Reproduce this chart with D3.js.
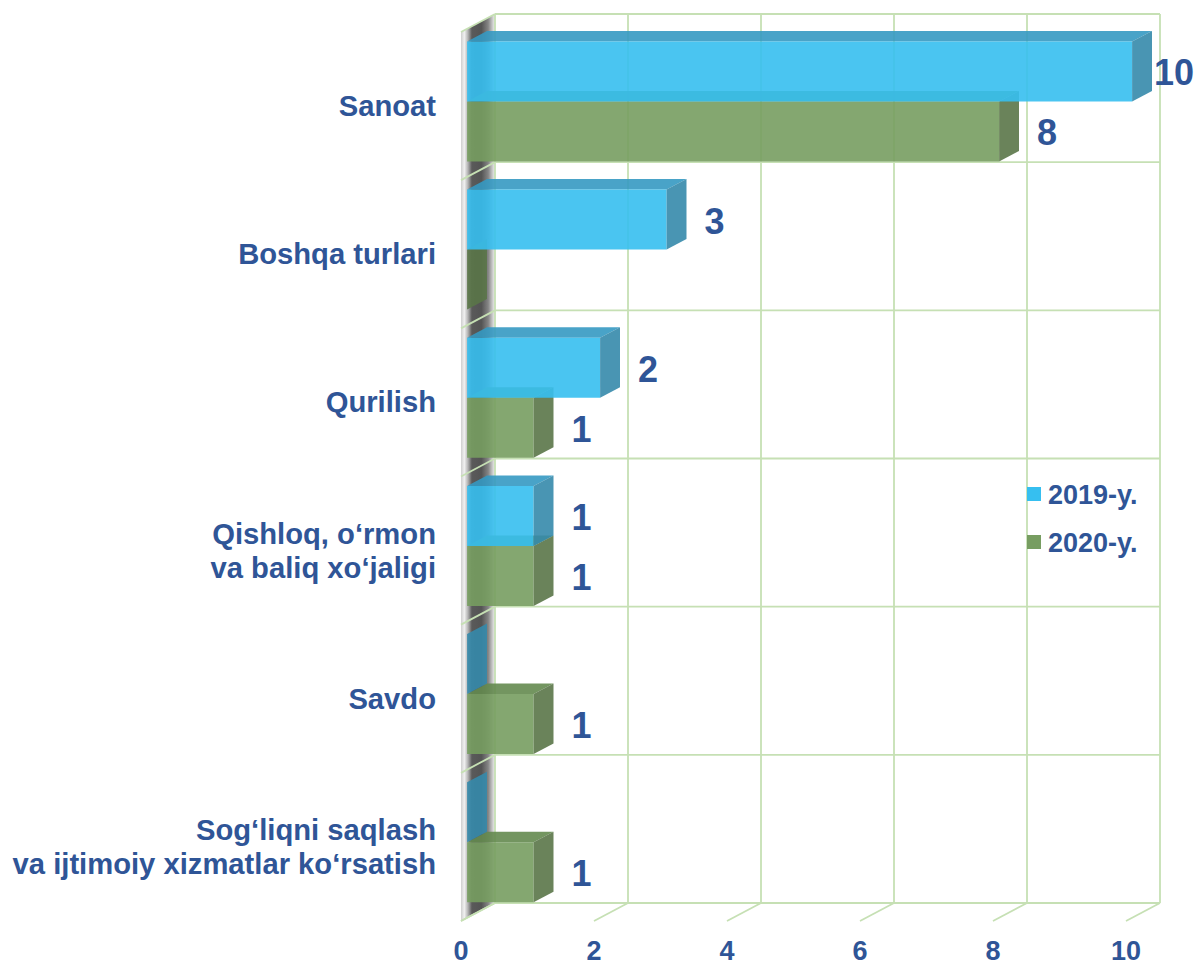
<!DOCTYPE html>
<html>
<head>
<meta charset="utf-8">
<script src="https://cdn.jsdelivr.net/npm/d3@7"></script>
<style>
  body { margin: 0; background: #fff; }
  text { font-family: "Liberation Sans", Arial, sans-serif; font-weight: bold; fill: #2F5597; }
</style>
</head>
<body>
<svg id="chart" width="1197" height="966"></svg>
<script>
// data
var categories = [
    ["Sanoat"],
    ["Boshqa turlari"],
    ["Qurilish"],
    ["Qishloq, o\u2018rmon", "va baliq xo\u2018jaligi"],
    ["Savdo"],
    ["Sog\u2018liqni saqlash", "va ijtimoiy xizmatlar ko\u2018rsatish"]
];
var seriesNames = ["2019-y.", "2020-y."];
var values2019 = [10, 3, 2, 1, 0, 0];
var values2020 = [8, 0, 1, 1, 1, 1];
var xTicks = [0, 2, 4, 6, 8, 10];

var svg = d3.select("#chart");
var width = 1197;
var gridColor = "#C6E0B4";

// 3d depth offset (back wall -> front edge)
var DX = -34, DY = 18;
var dBack = 0.235, dFront = 0.82;

var x = d3.scaleLinear().domain([0, 10]).range([495, 1160]);
var catKeys = categories.map(function (c, i) { return i; });
var y = d3.scaleBand().domain(catKeys).range([14, 903]).paddingInner(0).paddingOuter(0);
var ySeries = d3.scaleBand().domain([0, 1]).range([0, y.bandwidth()])
    .paddingInner(0).paddingOuter(0.235).align(0.45);

function P(v, yy, d) {
    return [x(v) + d * DX, yy + d * DY];
}
function poly(pts) {
    return pts.map(function (p) { return p[0].toFixed(1) + "," + p[1].toFixed(1); }).join(" ");
}

var defs = svg.append("defs");
var wallGrad = defs.append("linearGradient").attr("id", "wallGrad")
    .attr("gradientUnits", "userSpaceOnUse")
    .attr("x1", x(0) + DX).attr("x2", x(0)).attr("y1", 0).attr("y2", 0);
[[0, "#cfcfcf"], [0.1, "#f0f0f0"], [0.2, "#b5b5b5"], [0.32, "#5a5a5a"],
 [0.6, "#545454"], [0.8, "#858585"], [1, "#f2f2f2"]].forEach(function (s) {
    wallGrad.append("stop").attr("offset", s[0]).attr("stop-color", s[1]);
});

// left side wall
var yTop = y.range()[0], yBot = y.range()[1];
svg.append("polygon")
    .attr("points", poly([P(0, yTop, 0), P(0, yBot, 0), P(0, yBot, 1), P(0, yTop, 1)]))
    .attr("fill", "url(#wallGrad)");

// back wall grid
var grid = svg.append("g").attr("stroke", gridColor).attr("stroke-width", 1.8).attr("fill", "none");
xTicks.forEach(function (t) {
    grid.append("line").attr("x1", x(t)).attr("x2", x(t)).attr("y1", yTop).attr("y2", yBot);
    // floor diagonal
    grid.append("line")
        .attr("x1", x(t)).attr("y1", yBot)
        .attr("x2", P(t, yBot, 1)[0]).attr("y2", P(t, yBot, 1)[1]);
});
var bounds = catKeys.map(function (k) { return y(k); }).concat([yBot]);
bounds.forEach(function (b) {
    grid.append("line").attr("x1", x(0)).attr("x2", x(10)).attr("y1", b).attr("y2", b);
    // side wall diagonal
    grid.append("line")
        .attr("x1", x(0)).attr("y1", b)
        .attr("x2", P(0, b, 1)[0]).attr("y2", P(0, b, 1)[1]);
});

// bars
var seriesStyle = [
    { front: "#36BFF0", top: "#3599C2", side: "#358AAB" },
    { front: "#779D61", top: "#648A4F", side: "#5A7548" }
];
var bars = svg.append("g");
catKeys.forEach(function (k) {
    // draw 2020 first so the 2019 bar sits over its top face
    [1, 0].forEach(function (s) {
        var v = (s === 0 ? values2019 : values2020)[k];
        var y0 = y(k) + ySeries(s);
        var y1 = y0 + ySeries.bandwidth();
        var st = seriesStyle[s];
        var g = bars.append("g").attr("fill-opacity", 0.9);
        if (v > 0) {
            g.append("polygon").attr("fill", st.top)
                .attr("points", poly([P(0, y0, dBack), P(v, y0, dBack), P(v, y0, dFront), P(0, y0, dFront)]));
            g.append("polygon").attr("fill", st.front)
                .attr("points", poly([P(0, y0, dFront), P(v, y0, dFront), P(v, y1, dFront), P(0, y1, dFront)]));
        }
        g.append("polygon").attr("fill", st.side)
            .attr("points", poly([P(v, y0, dBack), P(v, y1, dBack), P(v, y1, dFront), P(v, y0, dFront)]));
    });
});

// value labels
var labels = svg.append("g").attr("font-size", 36);
catKeys.forEach(function (k) {
    [0, 1].forEach(function (s) {
        var v = (s === 0 ? values2019 : values2020)[k];
        if (v === 0) return;
        var y0 = y(k) + ySeries(s);
        var fr = P(v, y0 + ySeries.bandwidth() / 2, dFront);
        var t = labels.append("text").attr("y", fr[1] + 14).text(v);
        var w = t.node().getComputedTextLength();
        t.attr("x", Math.min(fr[0] + 38, width - 3 - w));
    });
});

// category labels
var catG = svg.append("g").attr("font-size", 29.2).attr("text-anchor", "end");
catKeys.forEach(function (k) {
    var lines = categories[k];
    var cy = y(k) + y.bandwidth() / 2 + DY;
    var lh = 34;
    var t = catG.append("text");
    lines.forEach(function (ln, i) {
        t.append("tspan").attr("x", 436)
            .attr("y", cy + 10 + (i - (lines.length - 1) / 2) * lh)
            .text(ln);
    });
});

// x axis tick labels
var tickG = svg.append("g").attr("font-size", 27).attr("text-anchor", "middle");
xTicks.forEach(function (t) {
    tickG.append("text").attr("x", P(t, yBot, 1)[0]).attr("y", 960).text(t);
});

// legend
var legend = svg.append("g").attr("font-size", 27);
seriesNames.forEach(function (name, i) {
    var ly = 494 + i * 48;
    legend.append("rect").attr("x", 1027).attr("y", ly - 7).attr("width", 14).attr("height", 14)
        .attr("fill", seriesStyle[i].front);
    legend.append("text").attr("x", 1048).attr("y", ly + 10).text(name);
});
</script>
</body>
</html>
